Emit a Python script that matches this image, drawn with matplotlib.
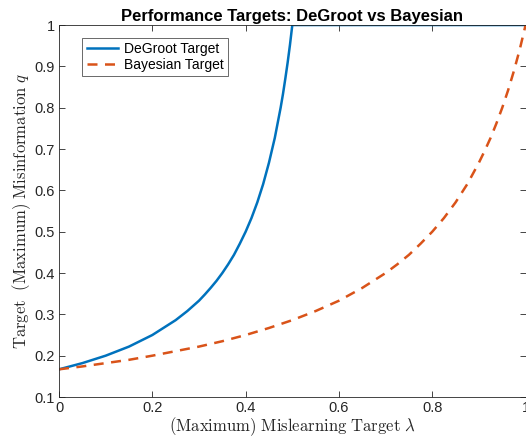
import numpy as np
import matplotlib.pyplot as plt

plt.rcParams['font.family'] = ['Liberation Sans', 'DejaVu Sans']
plt.rcParams['mathtext.fontset'] = 'cm'

# mislearning target (x) and misinformation targets (y) for both models
lam_degroot = [0.0, 0.05, 0.1, 0.15, 0.2, 0.25, 0.275, 0.3, 0.3125, 0.325, 0.3375, 0.35,
               0.3625, 0.375, 0.3875, 0.4, 0.4125, 0.425, 0.4375, 0.45, 0.4625, 0.475,
               0.48, 0.485, 0.49, 0.495, 0.5, 0.55, 0.6, 0.7, 0.8, 0.9, 1.0]
q_degroot = [0.167, 0.182, 0.2, 0.222, 0.25, 0.286, 0.308, 0.333, 0.348, 0.364, 0.381, 0.4,
             0.421, 0.444, 0.471, 0.5, 0.533, 0.571, 0.615, 0.667, 0.727, 0.8,
             0.833, 0.870, 0.909, 0.952, 1.0, 1.0, 1.0, 1.0, 1.0, 1.0, 1.0]

lam_bayes = [0.0, 0.05, 0.1, 0.15, 0.2, 0.25, 0.3, 0.35, 0.4, 0.45, 0.5,
             0.55, 0.6, 0.65, 0.7, 0.725, 0.75, 0.775, 0.8, 0.825, 0.85, 0.875, 0.9,
             0.9125, 0.925, 0.9375, 0.95, 0.9625, 0.975, 0.9875, 1.0]
q_bayes = [0.167, 0.174, 0.182, 0.19, 0.2, 0.211, 0.222, 0.235, 0.25, 0.267, 0.286,
           0.308, 0.333, 0.364, 0.4, 0.421, 0.444, 0.471, 0.5, 0.533, 0.571, 0.615, 0.667,
           0.696, 0.727, 0.762, 0.8, 0.842, 0.889, 0.941, 1.0]

x_ticks = [0, 0.2, 0.4, 0.6, 0.8, 1]
y_ticks = [0.1, 0.2, 0.3, 0.4, 0.5, 0.6, 0.7, 0.8, 0.9, 1]

BLUE = '#0072BD'
ORANGE = '#D95319'
AX_COL = '#262626'

fig = plt.figure(figsize=(5.26, 4.43), dpi=100)
ax = fig.add_axes([0.1122, 0.1038, 0.887, 0.8397])

ax.plot(lam_degroot, q_degroot, color=BLUE, lw=1.8, label='DeGroot Target')
ax.plot(lam_bayes, q_bayes, color=ORANGE, lw=1.8, ls=(0, (4, 3)), label='Bayesian Target')

ax.set_xlim(0, 1)
ax.set_ylim(0.1, 1)
ax.set_xticks(x_ticks)
ax.set_xticklabels(['0', '0.2', '0.4', '0.6', '0.8', '1'])
ax.set_yticks(y_ticks)
ax.set_yticklabels(['0.1', '0.2', '0.3', '0.4', '0.5', '0.6', '0.7', '0.8', '0.9', '1'])
ax.tick_params(direction='in', length=4, width=0.6, colors=AX_COL, labelsize=10.5,
               top=True, right=True, pad=3)
for sp in ax.spines.values():
    sp.set_color(AX_COL)
    sp.set_linewidth(0.6)

ax.set_xlabel(r'$\mathrm{(Maximum)\ Mislearning\ Target}\ \lambda$', fontsize=12,
              color=AX_COL, labelpad=0)
ax.set_ylabel(r'$\mathrm{Target\ \ (Maximum)\ Misinformation}\ q$', fontsize=12,
              color=AX_COL, labelpad=1)
ax.set_title('Performance Targets: DeGroot vs Bayesian', fontsize=12, fontweight='bold',
             pad=3)

leg = ax.legend(loc='upper left', bbox_to_anchor=(0.05, 0.965), fontsize=10,
                frameon=True, fancybox=False, edgecolor=AX_COL, handlelength=2.3,
                borderpad=0.3, labelspacing=0.15, handletextpad=0.4, borderaxespad=0)
leg.get_frame().set_linewidth(0.6)

fig.savefig('out.png', dpi=100)
